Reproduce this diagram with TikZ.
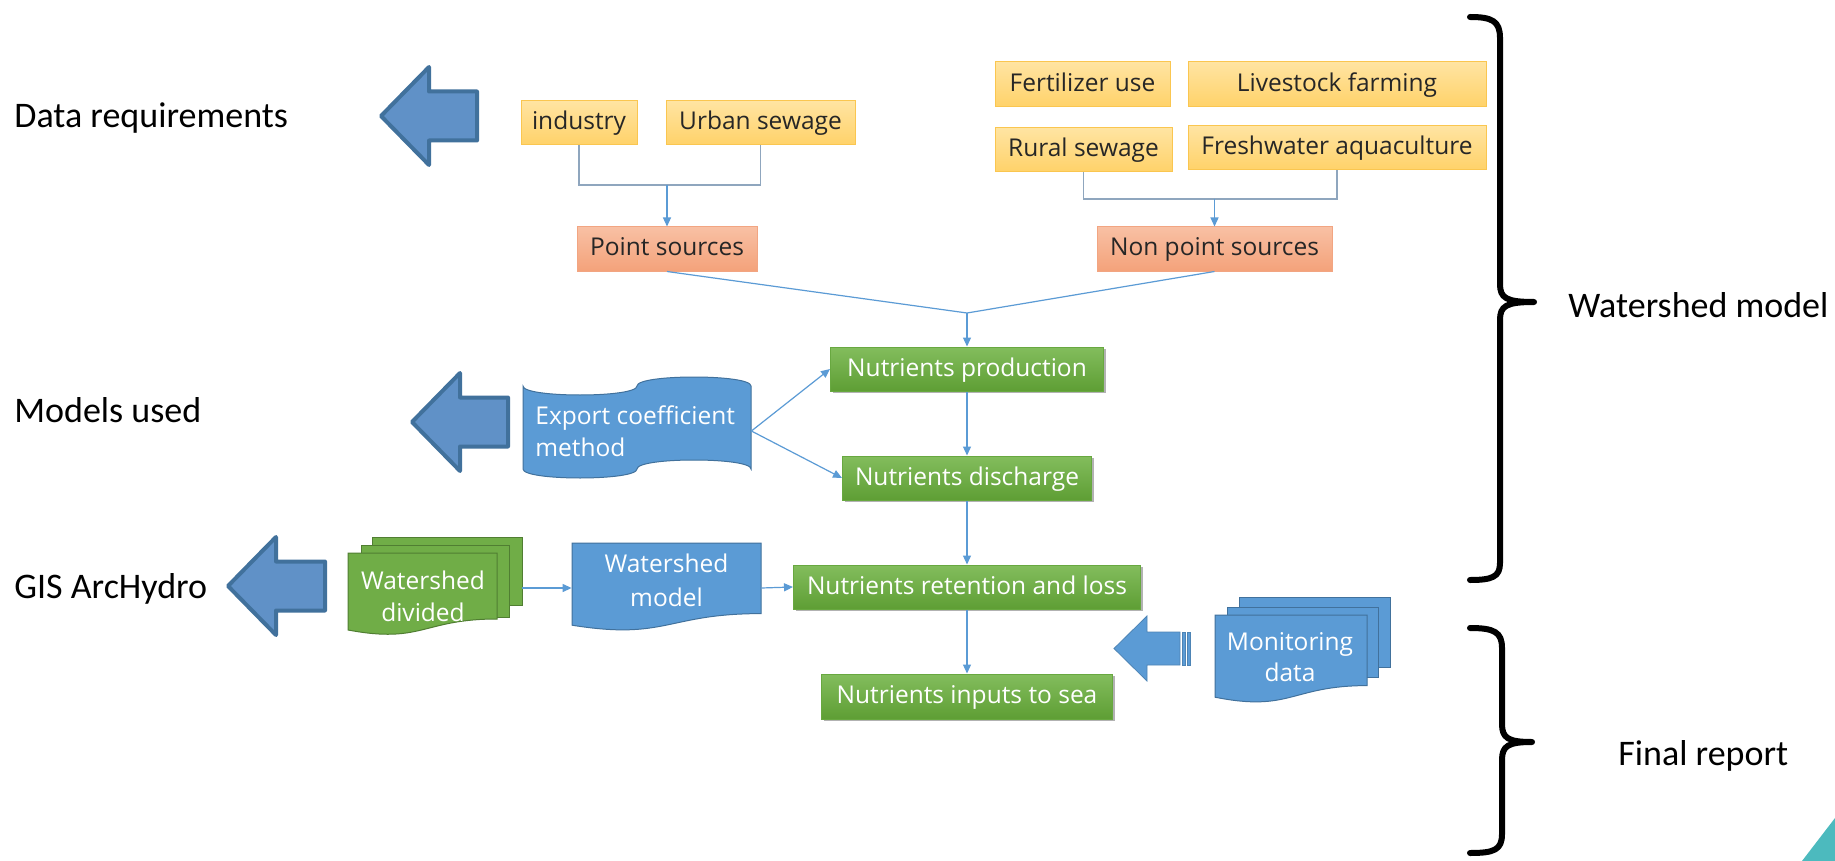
\documentclass[tikz,border=0pt]{standalone}
\usepackage{fontspec}
\usetikzlibrary{arrows.meta,shadows}
\newfontfamily\boxfam{Open Sans}
\newfontfamily\lblfam{Carlito}
\newcommand\bxf{\boxfam\fontsize{12.25}{16}\selectfont}
\newcommand\lbf{\lblfam\fontsize{18}{22}\selectfont}
\definecolor{arrowfill}{RGB}{96,145,199}
\definecolor{arrowline}{RGB}{65,113,156}
\definecolor{connc}{RGB}{91,155,213}
\definecolor{bracketc}{RGB}{143,166,190}
\definecolor{yelT}{RGB}{255,228,162}
\definecolor{yelB}{RGB}{255,210,105}
\definecolor{yelD}{RGB}{250,198,80}
\definecolor{orT}{RGB}{248,192,164}
\definecolor{orB}{RGB}{244,162,122}
\definecolor{orD}{RGB}{242,165,130}
\definecolor{grT}{RGB}{131,189,93}
\definecolor{grB}{RGB}{94,158,52}
\definecolor{grD}{RGB}{104,168,64}
\definecolor{docblue}{RGB}{91,155,213}
\definecolor{docline}{RGB}{65,113,156}
\definecolor{docgreen}{RGB}{112,173,71}
\definecolor{docgline}{RGB}{80,126,50}
\definecolor{tealc}{RGB}{76,186,190}
\definecolor{txtdark}{RGB}{38,38,38}
\begin{document}
\begin{tikzpicture}[x=0.5pt,y=-0.5pt,
  box/.style={rectangle, inner sep=0pt, font=\bxf, text height=9.5pt, text depth=2.5pt, line width=0.5pt},
  ybox/.style={box, draw=yelD, top color=yelT, bottom color=yelB, text=txtdark},
  obox/.style={box, draw=orD, top color=orT, bottom color=orB, text=txtdark},
  gbox/.style={box, draw=grD, top color=grT, bottom color=grB, text=white,
    drop shadow={shadow xshift=1.2pt, shadow yshift=-1.2pt, opacity=0.3, fill=black}},
  conn/.style={draw=connc, line width=0.6pt, -{Triangle[length=4.5pt,width=4pt]}},
  cline/.style={draw=connc, line width=0.6pt},
  bline/.style={draw=bracketc, line width=0.9pt},
  bigarrow/.style={fill=arrowfill, draw=arrowline, line width=2pt, line join=round},
  smallarrow/.style={fill=docblue, draw=docblue!85!black, line width=0.4pt},
  docb/.style={fill=docblue, draw=docline, line width=0.5pt},
  docg/.style={fill=docgreen, draw=docgline, line width=0.5pt},
  doctext/.style={font=\bxf, text=white, inner sep=0pt},
  anchorbox/.style={inner sep=0pt, draw=none},
  brace/.style={draw=black, line width=3pt, line cap=round, line join=round},
  lbl/.style={font=\lbf, inner sep=0pt, anchor=base west, text=black}]
\fill[white] (0,0) rectangle (1835,861);
\useasboundingbox (0,0) rectangle (1835,861);

% left labels
\node[lbl] (datareq) at (14,128) {Data requirements};
\node[lbl] (models) at (14,422) {Models used};
\node[lbl] (gis) at (14,598) {GIS ArcHydro};
\node[lbl] (wsm) at (1568,317) {Watershed model};
\node[lbl] (final) at (1618,765) {Final report};

% big arrows
\draw[bigarrow] (381,116) -- (429,67) -- (429,91.5) -- (477,91.5) -- (477,140.5) -- (429,140.5) -- (429,165) -- cycle;
\draw[bigarrow] (412,422) -- (460,373) -- (460,397.5) -- (508,397.5) -- (508,446.5) -- (460,446.5) -- (460,471) -- cycle;
\draw[bigarrow] (228,586) -- (276,537) -- (276,561.5) -- (325,561.5) -- (325,610.5) -- (276,610.5) -- (276,635) -- cycle;

% source boxes
\node[ybox, minimum width=58pt, minimum height=22pt] (industry) at (579,123) {industry};
\node[ybox, minimum width=94.5pt, minimum height=22pt] (urban) at (760.5,123) {Urban sewage};
\node[ybox, minimum width=87.5pt, minimum height=22.5pt] (fert) at (1082.5,84.5) {Fertilizer use};
\node[ybox, minimum width=149pt, minimum height=22.5pt] (live) at (1337,84.5) {Livestock farming};
\node[ybox, minimum width=88.5pt, minimum height=22pt] (rural) at (1083.5,150) {Rural sewage};
\node[ybox, minimum width=149pt, minimum height=22pt] (fresh) at (1337,148) {Freshwater aquaculture};
\node[obox, minimum width=90pt, minimum height=22pt] (point) at (667,249) {Point sources};
\node[obox, minimum width=117.5pt, minimum height=22pt] (nonpoint) at (1214.5,249) {Non point sources};

% green process boxes
\node[gbox, minimum width=136.5pt, minimum height=22pt] (prod) at (967,369) {Nutrients production};
\node[gbox, minimum width=124.5pt, minimum height=22pt] (disch) at (967,478) {Nutrients discharge};
\node[gbox, minimum width=173.5pt, minimum height=22pt] (ret) at (967,587) {Nutrients retention and loss};
\node[gbox, minimum width=145.5pt, minimum height=22.5pt] (inputs) at (967,696.5) {Nutrients inputs to sea};

% connectors top
\coordinate (br1) at (667,185);
\coordinate (br2) at (1214.5,199);
\coordinate (jn) at (967,313);
\draw[bline] (industry.south) |- (br1) -| (urban.south);
\draw[conn] (br1) -- (point.north);
\draw[bline] (rural.south) |- (br2) -| (fresh.south);
\draw[conn] (br2) -- (nonpoint.north);
\draw[cline] (point.south) -- (jn);
\draw[cline] (nonpoint.south) -- (jn);
\draw[conn] (jn) -- (prod.north);
\draw[conn] (prod.south) -- (disch.north);
\draw[conn] (disch.south) -- (ret.north);
\draw[conn] (ret.south) -- (inputs.north);

% export coefficient tape
\node[anchorbox, minimum width=114pt, minimum height=46pt] (tape) at (637,431) {};
\draw[docb] (523,386) .. controls (523,398) and (637,398) .. (637,386)
  .. controls (637,374) and (751,374) .. (751,386) -- (751,469)
  .. controls (751,457) and (637,457) .. (637,469)
  .. controls (637,481) and (523,481) .. (523,469) -- cycle;
\node[doctext, anchor=west, align=left] (tapetxt) at (535,431) {Export coefficient\\method};
\draw[conn] (tape.east) -- (prod.west);
\draw[conn] (tape.east) -- (disch.west);

% watershed divided (multi-document)
\node[anchorbox, minimum width=87pt, minimum height=51pt] (wdiv) at (435,588) {};
\draw[docg] (372,537) rectangle (522,605);
\draw[docg] (361,545) rectangle (509,617);
\draw[docg] (348,553) -- (497,553) -- (497,619) .. controls (422.5,619) and (422.5,644) .. (348,630) -- cycle;
\node[doctext, align=center] (wdivtxt) at (423,596) {Watershed\\divided};

% watershed model (document)
\node[anchorbox, minimum width=94.5pt, minimum height=44pt] (wmodel) at (666.5,588) {};
\draw[docb] (572,543) -- (761,543) -- (761,613.6) .. controls (666.5,613.6) and (666.5,640.4) .. (572,625.2) -- cycle;
\node[doctext, align=center, font=\boxfam\fontsize{12.25}{17}\selectfont] (wmodeltxt) at (666.5,580) {Watershed\\model};
\draw[conn] (wdiv.east) -- (wmodel.west);
\draw[conn] (wmodel.east) -- (ret.west);

% monitoring data
\draw[smallarrow] (1114,648.5) -- (1147,616) -- (1147,632) -- (1180,632) -- (1180,665) -- (1147,665) -- (1147,681) -- cycle;
\draw[smallarrow] (1182,632) rectangle (1185,665);
\draw[smallarrow] (1187,632) rectangle (1190,665);
\draw[docb] (1239,597) rectangle (1390,667);
\draw[docb] (1227,607) rectangle (1378,677);
\draw[docb] (1215,615) -- (1367,615) -- (1367,685.6) .. controls (1291,685.6) and (1291,712.4) .. (1215,697.2) -- cycle;
\node[doctext, align=center, font=\boxfam\fontsize{12.25}{15.5}\selectfont] (montxt) at (1290,657) {Monitoring\\data};

% braces
\draw[brace] (1470,17) .. controls (1492,17) and (1500,21) .. (1500,38) -- (1500,284)
  .. controls (1500,298) and (1506,302) .. (1534,302)
  .. controls (1506,302) and (1500,306) .. (1500,320) -- (1500,563)
  .. controls (1500,577) and (1492,580) .. (1470,580);
\draw[brace] (1470,628) .. controls (1494,628) and (1502,632) .. (1502,648) -- (1502,724)
  .. controls (1502,738) and (1508,742) .. (1532,742)
  .. controls (1508,742) and (1502,746) .. (1502,760) -- (1502,834)
  .. controls (1502,850) and (1494,853) .. (1470,853);

% corner triangle
\fill[tealc] (1802,861) -- (1835,818) -- (1835,861) -- cycle;
\end{tikzpicture}
\end{document}
